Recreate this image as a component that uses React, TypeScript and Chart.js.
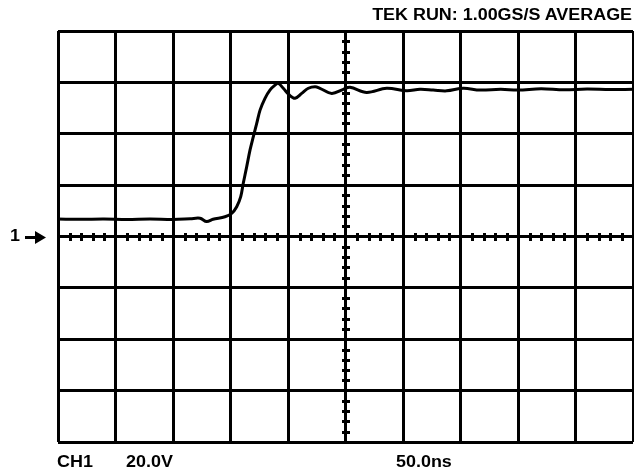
import React, { useEffect, useRef } from "react";
import { Chart, registerables } from "chart.js";

Chart.register(...registerables);

// Time (ns) and voltage (V) samples
const timeNs = [0, 20, 40, 60, 80, 100, 115, 123.5, 129.3, 134.8, 145.2, 151, 155.4, 158.9, 161.1, 164.1, 167, 169.8, 172.8, 175.7, 180, 184.3, 188.7, 191.6, 195.9, 201.1, 206.1, 211.9, 217.7, 223.5, 227.8, 238, 248.1, 253.9, 268.4, 285.8, 303.2, 314.8, 326.3, 338, 352.4, 367, 385, 400, 420, 440, 460, 480, 500];
const voltsV = [6.8, 6.7, 6.8, 6.6, 6.8, 6.6, 6.9, 7.1, 5.8, 6.7, 7.7, 9.0, 11.6, 15.5, 20.7, 27.2, 33.7, 38.8, 44.0, 49.2, 53.8, 57.0, 58.9, 59.6, 57.7, 55.1, 53.8, 55.7, 57.7, 58.3, 57.7, 55.7, 57.3, 58.1, 56.1, 57.7, 56.7, 57.3, 57.0, 56.7, 57.7, 57.0, 57.3, 57.0, 57.5, 57.1, 57.4, 57.2, 57.3];

const xTicks = [0, 50, 100, 150, 200, 250, 300, 350, 400, 450, 500];
const yTicks = [-80, -60, -40, -20, 0, 20, 40, 60, 80];
const xMinorStep = 10;
const yMinorStep = 4;
const groundLevel = 0;

const headerText = "TEK RUN: 1.00GS/S AVERAGE";
const channelLabel = "CH1";
const voltsPerDiv = "20.0V";
const timePerDiv = "50.0ns";
const markerLabel = "1";

const scopePlugin = {
  id: "scopeMarks",
  afterDatasetsDraw(chart: any) {
    const { ctx, scales } = chart;
    const xs = scales.x;
    const ys = scales.y;
    const cx = Math.round(xs.getPixelForValue(250));
    const cy = Math.round(ys.getPixelForValue(0));
    ctx.save();
    ctx.fillStyle = "#000";
    for (let t = xs.min; t <= xs.max + 0.001; t += xMinorStep) {
      if (t % 50 === 0) continue;
      const px = Math.round(xs.getPixelForValue(t));
      ctx.fillRect(px - 1, cy - 4, 3, 8);
    }
    for (let v = ys.min; v <= ys.max + 0.001; v += yMinorStep) {
      if (v % 20 === 0) continue;
      const py = Math.round(ys.getPixelForValue(v));
      ctx.fillRect(cx - 4, py - 1, 8, 3);
    }
    // ground-level arrow marker
    const gy = Math.round(ys.getPixelForValue(groundLevel));
    ctx.fillRect(25, gy - 1, 12, 3);
    ctx.beginPath();
    ctx.moveTo(35, gy - 6);
    ctx.lineTo(46, gy + 0.5);
    ctx.lineTo(35, gy + 7);
    ctx.closePath();
    ctx.fill();
    ctx.restore();
  },
};

export default function App() {
  const ref = useRef<HTMLCanvasElement | null>(null);
  useEffect(() => {
    if (!ref.current) return;
    const chart = new Chart(ref.current, {
      type: "line",
      data: {
        datasets: [
          {
            data: timeNs.map((t, i) => ({ x: t, y: voltsV[i] })),
            borderColor: "#000",
            borderWidth: 3,
            pointRadius: 0,
            tension: 0.35,
            fill: false,
          },
        ],
      },
      options: {
        responsive: false,
        animation: false,
        events: [],
        layout: { padding: { left: 58, top: 31, right: 1, bottom: 32 } },
        plugins: { legend: { display: false }, tooltip: { enabled: false } },
        scales: {
          x: {
            type: "linear",
            min: 0,
            max: 500,
            afterBuildTicks: (s: any) => {
              s.ticks = xTicks.map((v) => ({ value: v }));
            },
            ticks: { display: false },
            grid: { color: "#000", lineWidth: 3, drawTicks: false },
            border: { display: false },
          },
          y: {
            type: "linear",
            min: -80,
            max: 80,
            afterBuildTicks: (s: any) => {
              s.ticks = yTicks.map((v) => ({ value: v }));
            },
            ticks: { display: false },
            grid: { color: "#000", lineWidth: 3, drawTicks: false },
            border: { display: false },
          },
        },
      },
      plugins: [scopePlugin],
    });
    return () => chart.destroy();
  }, []);

  const textStyle: React.CSSProperties = {
    position: "absolute",
    fontFamily: "'Liberation Sans', Arial, sans-serif",
    fontWeight: "bold",
    fontSize: 16,
    color: "#000",
    whiteSpace: "nowrap",
    lineHeight: "20px",
    transform: "scaleX(1.12)",
    transformOrigin: "left center",
  };

  return (
    <div style={{ position: "fixed", left: 0, top: 0, width: 634, height: 474, background: "#fff" }}>
      <canvas ref={ref} width={634} height={474} style={{ position: "absolute", left: 0, top: 0 }} />
      <div style={{ ...textStyle, right: 2, top: 5, textAlign: "right", transformOrigin: "right center" }}>{headerText}</div>
      <div style={{ ...textStyle, left: 57, top: 452 }}>{channelLabel}</div>
      <div style={{ ...textStyle, left: 126, top: 452 }}>{voltsPerDiv}</div>
      <div style={{ ...textStyle, left: 396, top: 452 }}>{timePerDiv}</div>
      <div style={{ ...textStyle, left: 10, top: 226 }}>{markerLabel}</div>
    </div>
  );
}
